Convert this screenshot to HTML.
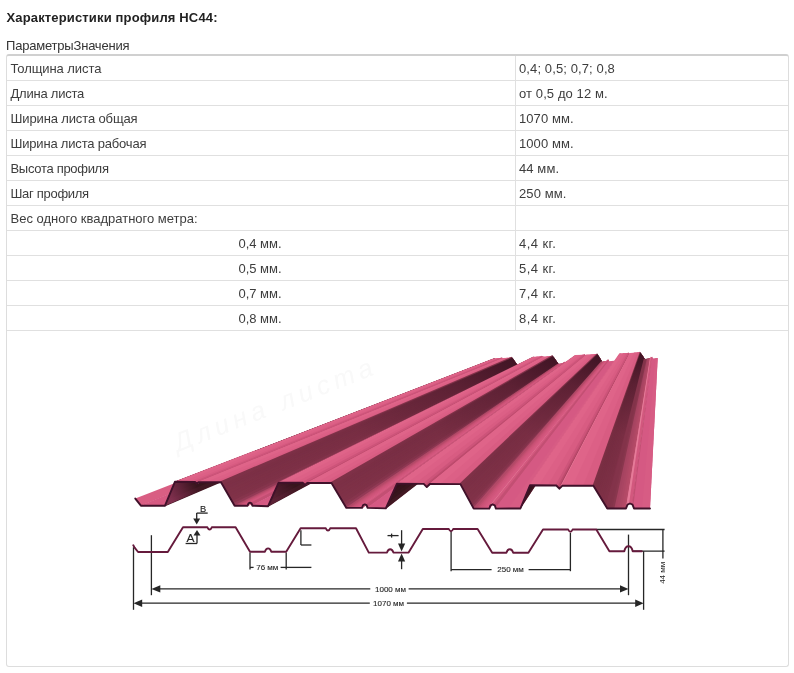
<!DOCTYPE html>
<html><head><meta charset="utf-8">
<style>
html,body{margin:0;padding:0;background:#fff;}
body{width:794px;height:673px;overflow:hidden;position:relative;font-family:"Liberation Sans",sans-serif;font-size:13px;color:#3d3d3d;}
h3{position:absolute;left:6.5px;top:10px;margin:0;font-size:13px;font-weight:bold;color:#222;line-height:15px;white-space:nowrap;letter-spacing:0.15px;}
.cap{position:absolute;left:6px;top:38px;font-size:13px;line-height:15px;color:#333;white-space:nowrap;letter-spacing:-0.2px;}
.tbl{position:absolute;left:6px;top:54px;width:781px;height:610px;border:1px solid #ddd;border-top:2px solid #d0d0d0;border-radius:3px;}
.row{position:absolute;left:0;width:781px;height:24px;border-bottom:1px solid #e0e0e0;}
.c1{position:absolute;left:3.5px;top:4.5px;line-height:15px;white-space:nowrap;}
.c1c{position:absolute;left:0;width:506px;text-align:center;top:4.5px;line-height:15px;}
.c2{position:absolute;left:512px;top:4.5px;line-height:15px;white-space:nowrap;}
.vl{position:absolute;left:508px;top:0;width:1px;height:274px;background:#e0e0e0;}
.art{position:absolute;left:0;top:0;}
h3,.cap,.tbl,.art text{filter:grayscale(1);}
</style></head><body>
<h3>Характеристики профиля НС44:</h3>
<div class="cap">ПараметрыЗначения</div>
<div class="tbl">
<div class="vl"></div>
<div class="row" style="top:0"><span class="c1" style="letter-spacing:-0.08px">Толщина листа</span><span class="c2" style="letter-spacing:0.11px">0,4; 0,5; 0,7; 0,8</span></div>
<div class="row" style="top:25px"><span class="c1" style="letter-spacing:-0.23px">Длина листа</span><span class="c2" style="letter-spacing:0.10px">от 0,5 до 12 м.</span></div>
<div class="row" style="top:50px"><span class="c1" style="letter-spacing:-0.13px">Ширина листа общая</span><span class="c2" style="letter-spacing:0.08px">1070 мм.</span></div>
<div class="row" style="top:75px"><span class="c1" style="letter-spacing:-0.19px">Ширина листа рабочая</span><span class="c2" style="letter-spacing:0.08px">1000 мм.</span></div>
<div class="row" style="top:100px"><span class="c1" style="letter-spacing:-0.30px">Высота профиля</span><span class="c2" style="letter-spacing:0.10px">44 мм.</span></div>
<div class="row" style="top:125px"><span class="c1" style="letter-spacing:-0.30px">Шаг профиля</span><span class="c2" style="letter-spacing:0.10px">250 мм.</span></div>
<div class="row" style="top:150px"><span class="c1" style="letter-spacing:0.00px">Вес одного квадратного метра:</span></div>
<div class="row" style="top:175px"><span class="c1c">0,4 мм.</span><span class="c2" style="letter-spacing:0.45px">4,4 кг.</span></div>
<div class="row" style="top:200px"><span class="c1c">0,5 мм.</span><span class="c2" style="letter-spacing:0.45px">5,4 кг.</span></div>
<div class="row" style="top:225px"><span class="c1c">0,7 мм.</span><span class="c2" style="letter-spacing:0.45px">7,4 кг.</span></div>
<div class="row" style="top:250px"><span class="c1c">0,8 мм.</span><span class="c2" style="letter-spacing:0.45px">8,4 кг.</span></div>
</div>
<!--ART--><svg class="art" width="794" height="673" viewBox="0 0 794 673">
<defs><linearGradient id="U1" gradientUnits="userSpaceOnUse" x1="169.9" y1="493.8" x2="492.9" y2="362.4"><stop offset="0" stop-color="#9a3a60" stop-opacity="0.70"/><stop offset="0.035" stop-color="#8a3256" stop-opacity="0.49"/><stop offset="0.08" stop-color="#8a3256" stop-opacity="0"/></linearGradient><linearGradient id="S2" gradientUnits="userSpaceOnUse" x1="227.8" y1="493.9" x2="514.9" y2="361.4"><stop offset="0" stop-color="#2a0a18" stop-opacity="0"/><stop offset="0.45" stop-color="#2a0a18" stop-opacity="0.08"/><stop offset="0.8" stop-color="#2a0a18" stop-opacity="0.4"/><stop offset="1" stop-color="#2a0a18" stop-opacity="0.72"/></linearGradient><linearGradient id="U3" gradientUnits="userSpaceOnUse" x1="273.4" y1="494.4" x2="531.9" y2="360.8"><stop offset="0" stop-color="#9a3a60" stop-opacity="0.30"/><stop offset="0.035" stop-color="#8a3256" stop-opacity="0.21"/><stop offset="0.08" stop-color="#8a3256" stop-opacity="0"/></linearGradient><linearGradient id="S4" gradientUnits="userSpaceOnUse" x1="338.9" y1="495.4" x2="555.6" y2="359.9"><stop offset="0" stop-color="#2a0a18" stop-opacity="0"/><stop offset="0.45" stop-color="#2a0a18" stop-opacity="0.08"/><stop offset="0.8" stop-color="#2a0a18" stop-opacity="0.4"/><stop offset="1" stop-color="#2a0a18" stop-opacity="0.72"/></linearGradient><linearGradient id="U5" gradientUnits="userSpaceOnUse" x1="391.4" y1="496.0" x2="574.1" y2="359.1"><stop offset="0" stop-color="#9a3a60" stop-opacity="0.00"/><stop offset="0.035" stop-color="#8a3256" stop-opacity="0.00"/><stop offset="0.08" stop-color="#8a3256" stop-opacity="0"/></linearGradient><linearGradient id="S6" gradientUnits="userSpaceOnUse" x1="467.0" y1="496.4" x2="599.8" y2="357.8"><stop offset="0" stop-color="#2a0a18" stop-opacity="0"/><stop offset="0.45" stop-color="#2a0a18" stop-opacity="0.08"/><stop offset="0.8" stop-color="#2a0a18" stop-opacity="0.4"/><stop offset="1" stop-color="#2a0a18" stop-opacity="0.72"/></linearGradient><linearGradient id="U7" gradientUnits="userSpaceOnUse" x1="525.2" y1="496.9" x2="618.9" y2="357.0"><stop offset="0" stop-color="#9a3a60" stop-opacity="0.00"/><stop offset="0.035" stop-color="#8a3256" stop-opacity="0.00"/><stop offset="0.08" stop-color="#8a3256" stop-opacity="0"/></linearGradient><linearGradient id="S8" gradientUnits="userSpaceOnUse" x1="600.3" y1="497.1" x2="642.6" y2="355.6"><stop offset="0" stop-color="#2a0a18" stop-opacity="0"/><stop offset="0.45" stop-color="#2a0a18" stop-opacity="0.08"/><stop offset="0.8" stop-color="#2a0a18" stop-opacity="0.4"/><stop offset="1" stop-color="#2a0a18" stop-opacity="0.72"/></linearGradient></defs>
<text transform="translate(178,452) rotate(-21.5)" font-family="Liberation Sans, sans-serif" font-size="26px" font-style="italic" letter-spacing="5" fill="#f9f9f9">Длина листа</text>
<polygon points="135.3,498.6 140.9,505.7 481.5,367.0 479.3,364.7" fill="#d95e83"/>
<polygon points="139.9,505.7 165.0,505.7 490.9,366.6 480.5,367.1" fill="#d65a82"/>
<polygon points="152.9,505.7 165.0,505.7 490.9,366.6 486.3,366.8" fill="#d65a82"/>
<polygon points="164.6,506.6 174.9,481.8 494.8,358.2 490.5,367.5" fill="#411823"/>
<polygon points="167.5,499.7 174.9,481.8 494.8,358.2 491.9,364.5" fill="#38151d"/>
<polygon points="169.9,493.8 174.9,481.8 494.8,358.2 492.9,362.4" fill="#36131c"/>
<polygon points="172.4,487.8 174.9,481.8 494.8,358.2 493.8,360.3" fill="#33121a"/>
<polygon points="165.0,505.7 174.9,481.8 494.8,358.2 490.9,366.6" fill="url(#U1)"/>
<polygon points="173.9,481.8 195.1,482.0 502.5,357.9 493.8,358.3" fill="#df6489"/>
<polygon points="181.6,481.9 195.1,482.0 502.5,357.9 497.4,358.1" fill="#dc6086"/>
<polygon points="188.4,481.9 195.1,482.0 502.5,357.9 500.0,358.0" fill="#d85c82"/>
<polygon points="194.4,481.3 196.8,483.6 503.2,358.5 501.8,357.3" fill="#cd547a"/>
<polygon points="195.7,482.5 196.8,483.6 503.2,358.5 502.8,358.1" fill="#bf4c6e"/>
<polygon points="196.2,483.1 196.8,483.6 503.2,358.5 503.0,358.3" fill="#ad4062"/>
<polygon points="196.1,484.3 198.5,482.1 503.8,357.9 502.4,359.1" fill="#e87b98"/>
<polygon points="197.5,482.1 221.0,482.2 512.4,357.6 502.8,358.0" fill="#df6489"/>
<polygon points="206.0,482.1 221.0,482.2 512.4,357.6 506.7,357.8" fill="#dc6086"/>
<polygon points="213.5,482.2 221.0,482.2 512.4,357.6 509.5,357.7" fill="#d85c82"/>
<polygon points="220.5,481.3 234.6,505.7 517.5,365.3 511.8,356.7" fill="#7f3148"/>
<polygon points="222.4,484.6 234.6,505.7 517.5,365.3 512.9,358.3" fill="#7d3046"/>
<polygon points="223.7,486.9 234.6,505.7 517.5,365.3 513.4,359.1" fill="#7d3047"/>
<polygon points="225.1,489.2 234.6,505.7 517.5,365.3 513.9,359.9" fill="#7e3147"/>
<polygon points="226.4,491.6 234.6,505.7 517.5,365.3 514.4,360.7" fill="#7f3147"/>
<polygon points="227.8,493.9 234.6,505.7 517.5,365.3 514.9,361.4" fill="#7f3148"/>
<polygon points="229.2,496.3 234.6,505.7 517.5,365.3 515.4,362.2" fill="#803248"/>
<polygon points="230.5,498.6 234.6,505.7 517.5,365.3 516.0,363.0" fill="#813249"/>
<polygon points="231.9,501.0 234.6,505.7 517.5,365.3 516.5,363.7" fill="#87354d"/>
<polygon points="233.2,503.3 234.6,505.7 517.5,365.3 517.0,364.5" fill="#943b57"/>
<polygon points="221.0,482.2 234.6,505.7 517.5,365.3 512.4,357.6" fill="url(#S2)"/>
<polygon points="233.6,505.7 247.6,505.7 522.3,365.0 516.5,365.3" fill="#b14967"/>
<polygon points="236.2,505.7 247.6,505.7 522.3,365.0 518.1,365.2" fill="#bc4d6d"/>
<polygon points="237.8,505.7 247.6,505.7 522.3,365.0 518.7,365.2" fill="#c75174"/>
<polygon points="239.5,505.7 247.6,505.7 522.3,365.0 519.3,365.2" fill="#cd5479"/>
<polygon points="241.1,505.7 247.6,505.7 522.3,365.0 519.9,365.1" fill="#d1577c"/>
<polygon points="242.7,505.7 247.6,505.7 522.3,365.0 520.5,365.1" fill="#d55980"/>
<polygon points="244.3,505.7 247.6,505.7 522.3,365.0 521.1,365.1" fill="#d65b82"/>
<polygon points="246.0,505.7 247.6,505.7 522.3,365.0 521.7,365.0" fill="#d75c83"/>
<polygon points="247.2,506.6 248.5,503.3 522.7,364.2 522.0,365.9" fill="#e57997"/>
<polygon points="247.6,503.7 250.0,502.6 523.2,363.9 521.8,364.6" fill="#e67b99"/>
<polygon points="249.1,502.2 251.5,503.3 523.8,364.1 522.3,363.6" fill="#d2587e"/>
<polygon points="251.1,502.4 252.4,505.7 524.1,364.9 523.4,363.2" fill="#c34f73"/>
<polygon points="251.4,505.7 268.1,506.2 530.0,364.8 523.1,364.9" fill="#d55983"/>
<polygon points="260.3,505.9 268.1,506.2 530.0,364.8 527.1,364.8" fill="#d75c84"/>
<polygon points="267.7,507.1 278.6,482.6 533.8,356.7 529.5,365.7" fill="#411823"/>
<polygon points="270.7,500.3 278.6,482.6 533.8,356.7 530.9,362.8" fill="#38151d"/>
<polygon points="273.4,494.4 278.6,482.6 533.8,356.7 531.9,360.7" fill="#36131c"/>
<polygon points="276.0,488.5 278.6,482.6 533.8,356.7 532.9,358.7" fill="#33121a"/>
<polygon points="268.1,506.2 278.6,482.6 533.8,356.7 530.0,364.8" fill="url(#U3)"/>
<polygon points="277.6,482.6 302.9,482.8 542.7,356.4 532.8,356.8" fill="#df6489"/>
<polygon points="286.7,482.7 302.9,482.8 542.7,356.4 536.8,356.6" fill="#dc6086"/>
<polygon points="294.8,482.7 302.9,482.8 542.7,356.4 539.7,356.5" fill="#d85c82"/>
<polygon points="302.2,482.1 305.1,485.0 543.5,357.1 541.9,355.7" fill="#cd547a"/>
<polygon points="303.6,483.5 305.1,485.0 543.5,357.1 543.0,356.6" fill="#bf4c6e"/>
<polygon points="304.4,484.3 305.1,485.0 543.5,357.1 543.2,356.8" fill="#ad4062"/>
<polygon points="304.4,485.7 307.3,482.9 544.3,356.3 542.8,357.7" fill="#e87b98"/>
<polygon points="306.3,482.9 331.5,483.0 553.0,356.0 543.3,356.4" fill="#df6489"/>
<polygon points="315.4,482.9 331.5,483.0 553.0,356.0 547.2,356.2" fill="#dc6086"/>
<polygon points="323.4,483.0 331.5,483.0 553.0,356.0 550.1,356.1" fill="#d85c82"/>
<polygon points="331.0,482.1 346.4,507.9 558.3,363.8 552.4,355.1" fill="#7f3148"/>
<polygon points="333.0,485.5 346.4,507.9 558.3,363.8 553.5,356.7" fill="#7d3046"/>
<polygon points="334.5,488.0 346.4,507.9 558.3,363.8 554.1,357.5" fill="#7d3047"/>
<polygon points="336.0,490.5 346.4,507.9 558.3,363.8 554.6,358.3" fill="#7e3147"/>
<polygon points="337.5,493.0 346.4,507.9 558.3,363.8 555.1,359.1" fill="#7f3147"/>
<polygon points="338.9,495.4 346.4,507.9 558.3,363.8 555.6,359.9" fill="#7f3148"/>
<polygon points="340.4,497.9 346.4,507.9 558.3,363.8 556.2,360.7" fill="#803248"/>
<polygon points="341.9,500.4 346.4,507.9 558.3,363.8 556.7,361.5" fill="#813249"/>
<polygon points="343.4,502.9 346.4,507.9 558.3,363.8 557.2,362.3" fill="#87354d"/>
<polygon points="344.9,505.4 346.4,507.9 558.3,363.8 557.8,363.0" fill="#943b57"/>
<polygon points="331.5,483.0 346.4,507.9 558.3,363.8 553.0,356.0" fill="url(#S4)"/>
<polygon points="345.4,507.9 362.0,507.9 563.8,363.5 557.3,363.9" fill="#b14967"/>
<polygon points="348.4,507.9 362.0,507.9 563.8,363.5 559.0,363.8" fill="#bc4d6d"/>
<polygon points="350.3,507.9 362.0,507.9 563.8,363.5 559.7,363.8" fill="#c75174"/>
<polygon points="352.3,507.9 362.0,507.9 563.8,363.5 560.4,363.7" fill="#cd5479"/>
<polygon points="354.2,507.9 362.0,507.9 563.8,363.5 561.1,363.7" fill="#d1577c"/>
<polygon points="356.2,507.9 362.0,507.9 563.8,363.5 561.8,363.6" fill="#d55980"/>
<polygon points="358.1,507.9 362.0,507.9 563.8,363.5 562.4,363.6" fill="#d65b82"/>
<polygon points="360.1,507.9 362.0,507.9 563.8,363.5 563.1,363.6" fill="#d75c83"/>
<polygon points="361.7,508.8 363.1,505.1 564.2,362.6 563.4,364.5" fill="#e57997"/>
<polygon points="362.2,505.6 364.8,504.4 564.8,362.3 563.3,363.0" fill="#e67b99"/>
<polygon points="363.9,504.0 366.5,505.1 565.4,362.5 563.9,362.0" fill="#d2587e"/>
<polygon points="366.2,504.2 367.6,507.9 565.8,363.4 565.0,361.6" fill="#c34f73"/>
<polygon points="366.6,507.9 385.8,508.4 572.1,363.2 564.8,363.4" fill="#d55983"/>
<polygon points="376.7,508.1 385.8,508.4 572.1,363.2 569.0,363.3" fill="#d75c84"/>
<polygon points="385.4,509.3 397.0,483.7 576.0,355.1 571.7,364.1" fill="#411823"/>
<polygon points="388.6,502.2 397.0,483.7 576.0,355.1 573.1,361.2" fill="#38151d"/>
<polygon points="391.4,496.0 397.0,483.7 576.0,355.1 574.1,359.1" fill="#36131c"/>
<polygon points="394.2,489.9 397.0,483.7 576.0,355.1 575.1,357.1" fill="#33121a"/>
<polygon points="385.8,508.4 397.0,483.7 576.0,355.1 572.1,363.2" fill="url(#U5)"/>
<polygon points="396.0,483.7 423.7,483.9 585.2,354.7 575.0,355.1" fill="#df6489"/>
<polygon points="405.9,483.8 423.7,483.9 585.2,354.7 579.1,354.9" fill="#dc6086"/>
<polygon points="414.8,483.8 423.7,483.9 585.2,354.7 582.1,354.8" fill="#d85c82"/>
<polygon points="423.0,483.2 426.8,487.1 586.2,355.6 584.4,354.0" fill="#cd547a"/>
<polygon points="424.7,485.0 426.8,487.1 586.2,355.6 585.5,355.0" fill="#bf4c6e"/>
<polygon points="425.8,486.1 426.8,487.1 586.2,355.6 585.9,355.3" fill="#ad4062"/>
<polygon points="426.1,487.9 429.9,484.0 587.3,354.6 585.5,356.4" fill="#e87b98"/>
<polygon points="428.9,484.0 460.4,484.1 597.6,354.1 586.3,354.6" fill="#df6489"/>
<polygon points="440.1,484.0 460.4,484.1 597.6,354.1 590.8,354.4" fill="#dc6086"/>
<polygon points="450.2,484.1 460.4,484.1 597.6,354.1 594.2,354.3" fill="#d85c82"/>
<polygon points="459.9,483.2 473.7,508.6 602.0,361.6 597.1,353.2" fill="#7f3148"/>
<polygon points="461.7,486.5 473.7,508.6 602.0,361.6 598.0,354.8" fill="#7d3046"/>
<polygon points="463.1,489.0 473.7,508.6 602.0,361.6 598.5,355.6" fill="#7d3047"/>
<polygon points="464.4,491.4 473.7,508.6 602.0,361.6 598.9,356.3" fill="#7e3147"/>
<polygon points="465.7,493.9 473.7,508.6 602.0,361.6 599.4,357.1" fill="#7f3147"/>
<polygon points="467.0,496.4 473.7,508.6 602.0,361.6 599.8,357.8" fill="#7f3148"/>
<polygon points="468.4,498.8 473.7,508.6 602.0,361.6 600.2,358.6" fill="#803248"/>
<polygon points="469.7,501.2 473.7,508.6 602.0,361.6 600.7,359.3" fill="#813249"/>
<polygon points="471.0,503.7 473.7,508.6 602.0,361.6 601.1,360.1" fill="#87354d"/>
<polygon points="472.4,506.2 473.7,508.6 602.0,361.6 601.6,360.8" fill="#943b57"/>
<polygon points="460.4,484.1 473.7,508.6 602.0,361.6 597.6,354.1" fill="url(#S6)"/>
<polygon points="472.7,508.6 489.3,508.6 607.2,361.3 601.0,361.6" fill="#b14967"/>
<polygon points="475.6,508.6 489.3,508.6 607.2,361.3 602.7,361.5" fill="#bc4d6d"/>
<polygon points="477.6,508.6 489.3,508.6 607.2,361.3 603.3,361.5" fill="#c75174"/>
<polygon points="479.5,508.6 489.3,508.6 607.2,361.3 603.9,361.5" fill="#cd5479"/>
<polygon points="481.5,508.6 489.3,508.6 607.2,361.3 604.6,361.4" fill="#d1577c"/>
<polygon points="483.4,508.6 489.3,508.6 607.2,361.3 605.2,361.4" fill="#d55980"/>
<polygon points="485.4,508.6 489.3,508.6 607.2,361.3 605.9,361.4" fill="#d65b82"/>
<polygon points="487.3,508.6 489.3,508.6 607.2,361.3 606.5,361.3" fill="#d75c83"/>
<polygon points="488.9,509.5 490.5,505.3 607.6,360.2 606.8,362.2" fill="#e57997"/>
<polygon points="489.6,505.7 492.6,504.4 608.3,359.9 606.7,360.7" fill="#e67b99"/>
<polygon points="491.7,504.0 494.7,505.3 608.9,360.1 607.3,359.5" fill="#d2587e"/>
<polygon points="494.3,504.4 495.9,508.6 609.3,361.2 608.5,359.2" fill="#c34f73"/>
<polygon points="494.9,508.6 520.4,508.5 617.3,360.6 608.3,361.2" fill="#d55983"/>
<polygon points="508.2,508.6 520.4,508.5 617.3,360.6 613.3,360.9" fill="#d75c84"/>
<polygon points="520.0,509.4 530.0,485.3 620.4,353.3 616.9,361.6" fill="#411823"/>
<polygon points="522.8,502.7 530.0,485.3 620.4,353.3 618.1,358.8" fill="#38151d"/>
<polygon points="525.2,496.9 530.0,485.3 620.4,353.3 618.9,357.0" fill="#36131c"/>
<polygon points="527.6,491.1 530.0,485.3 620.4,353.3 619.6,355.1" fill="#33121a"/>
<polygon points="520.4,508.5 530.0,485.3 620.4,353.3 617.3,360.6" fill="url(#U7)"/>
<polygon points="529.0,485.3 556.3,485.5 628.8,352.9 619.4,353.3" fill="#df6489"/>
<polygon points="538.8,485.4 556.3,485.5 628.8,352.9 623.2,353.1" fill="#dc6086"/>
<polygon points="547.5,485.4 556.3,485.5 628.8,352.9 626.0,353.0" fill="#d85c82"/>
<polygon points="555.6,484.8 559.4,488.7 629.8,353.8 628.1,352.2" fill="#cd547a"/>
<polygon points="557.3,486.6 559.4,488.7 629.8,353.8 629.1,353.2" fill="#bf4c6e"/>
<polygon points="558.4,487.7 559.4,488.7 629.8,353.8 629.5,353.5" fill="#ad4062"/>
<polygon points="558.7,489.5 562.5,485.6 630.8,352.8 629.1,354.5" fill="#e87b98"/>
<polygon points="561.5,485.6 593.4,485.7 640.4,352.3 629.8,352.9" fill="#df6489"/>
<polygon points="572.8,485.6 593.4,485.7 640.4,352.3 634.0,352.6" fill="#dc6086"/>
<polygon points="583.1,485.7 593.4,485.7 640.4,352.3 637.2,352.5" fill="#d85c82"/>
<polygon points="592.9,484.8 607.3,508.5 644.7,359.0 639.9,351.5" fill="#7d3045"/>
<polygon points="594.8,488.0 607.3,508.5 644.7,359.0 640.9,353.0" fill="#7b2f44"/>
<polygon points="596.2,490.3 607.3,508.5 644.7,359.0 641.3,353.6" fill="#7b2f44"/>
<polygon points="597.6,492.5 607.3,508.5 644.7,359.0 641.7,354.3" fill="#7c2f45"/>
<polygon points="599.0,494.8 607.3,508.5 644.7,359.0 642.2,355.0" fill="#7d3045"/>
<polygon points="600.3,497.1 607.3,508.5 644.7,359.0 642.6,355.6" fill="#7d3046"/>
<polygon points="601.7,499.4 607.3,508.5 644.7,359.0 643.0,356.3" fill="#7e3046"/>
<polygon points="603.1,501.7 607.3,508.5 644.7,359.0 643.5,357.0" fill="#7f3147"/>
<polygon points="604.5,503.9 607.3,508.5 644.7,359.0 643.9,357.6" fill="#803147"/>
<polygon points="605.9,506.2 607.3,508.5 644.7,359.0 644.3,358.3" fill="#85344c"/>
<polygon points="593.4,485.7 607.3,508.5 644.7,359.0 640.4,352.3" fill="url(#S8)"/>
<polygon points="606.3,508.5 626.0,508.5 650.5,358.6 643.7,359.0" fill="#83334a"/>
<polygon points="609.6,508.5 626.0,508.5 650.5,358.6 645.5,358.9" fill="#84344b"/>
<polygon points="612.0,508.5 626.0,508.5 650.5,358.6 646.2,358.9" fill="#89374e"/>
<polygon points="614.3,508.5 626.0,508.5 650.5,358.6 646.9,358.8" fill="#a54360"/>
<polygon points="616.6,508.5 626.0,508.5 650.5,358.6 647.6,358.8" fill="#a94562"/>
<polygon points="619.0,508.5 626.0,508.5 650.5,358.6 648.3,358.7" fill="#ad4764"/>
<polygon points="621.3,508.5 626.0,508.5 650.5,358.6 649.0,358.7" fill="#b24966"/>
<polygon points="623.6,508.5 626.0,508.5 650.5,358.6 649.7,358.6" fill="#b64b68"/>
<polygon points="625.6,509.4 627.5,504.6 650.9,357.4 650.1,359.5" fill="#e57997"/>
<polygon points="626.6,505.0 630.0,503.5 651.7,357.0 650.0,357.8" fill="#e67b99"/>
<polygon points="629.1,503.1 632.5,504.6 652.4,357.3 650.7,356.7" fill="#d2587e"/>
<polygon points="632.1,503.6 634.0,508.5 652.9,358.4 652.1,356.4" fill="#c34f73"/>
<polygon points="633.0,508.5 650.0,508.5 657.7,358.1 651.9,358.5" fill="#d55983"/>
<polygon points="642.0,508.5 650.0,508.5 657.7,358.1 655.3,358.3" fill="#d75c84"/>
<polyline points="135.3,498.6 140.9,505.7 165.0,505.7 174.9,481.8 195.1,482.0 196.8,483.6 198.5,482.1 221.0,482.2 234.6,505.7 247.6,505.7 248.5,503.3 250.0,502.6 251.5,503.3 252.4,505.7 268.1,506.2 278.6,482.6 302.9,482.8 305.1,485.0 307.3,482.9 331.5,483.0 346.4,507.9 362.0,507.9 363.1,505.1 364.8,504.4 366.5,505.1 367.6,507.9 385.8,508.4 397.0,483.7 423.7,483.9 426.8,487.1 429.9,484.0 460.4,484.1 473.7,508.6 489.3,508.6 490.5,505.3 492.6,504.4 494.7,505.3 495.9,508.6 520.4,508.5 530.0,485.3 556.3,485.5 559.4,488.7 562.5,485.6 593.4,485.7 607.3,508.5 626.0,508.5 627.5,504.6 630.0,503.5 632.5,504.6 634.0,508.5 650.0,508.5" fill="none" stroke="#40112a" stroke-width="1.9" stroke-linejoin="round" stroke-linecap="round"/>
<g fill="none" stroke="#262626" stroke-width="1.3" stroke-linecap="butt">
<path d="M196.7,513.1 L207.7,513.1"/>
<path d="M196.7,513.1 L196.7,520.0"/>
<path d="M185.6,543.5 L197.0,543.5"/>
<path d="M197.0,543.5 L197.0,534.5"/>
<path d="M300.9,530.2 L300.9,545.0"/>
<path d="M300.9,545.0 L311.4,545.0"/>
<path d="M250.0,552.5 L250.0,569.4"/>
<path d="M286.2,552.5 L286.2,569.4"/>
<path d="M250.0,567.4 L253.6,567.4"/>
<path d="M280.6,567.4 L311.4,567.4"/>
<path d="M401.6,530.2 L401.6,545.0"/>
<path d="M401.6,561.0 L401.6,569.2"/>
<path d="M387.5,535.6 L398.6,535.6"/>
<path d="M391.6,533.6 L391.6,537.6"/>
<path d="M451.1,531.5 L451.1,571.2"/>
<path d="M570.4,533.0 L570.4,571.2"/>
<path d="M451.1,569.6 L491.6,569.6"/>
<path d="M528.6,569.6 L570.4,569.6"/>
<path d="M151.4,535.2 L151.4,595.2"/>
<path d="M628.5,534.6 L628.5,595.2"/>
<path d="M158.0,588.9 L370.3,588.9"/>
<path d="M408.6,588.9 L621.0,588.9"/>
<path d="M133.5,547.2 L133.5,609.8"/>
<path d="M643.6,551.2 L643.6,609.8"/>
<path d="M140.0,603.2 L369.8,603.2"/>
<path d="M406.9,603.2 L636.5,603.2"/>
<path d="M596.3,529.5 L664.6,529.5"/>
<path d="M632.0,551.2 L664.6,551.2"/>
<path d="M662.9,529.5 L662.9,558.5"/>
</g>
<polygon points="196.7,524.4 193.2,518.4 200.2,518.4" fill="#262626"/>
<polygon points="197.0,530.0 193.5,535.6 200.5,535.6" fill="#262626"/>
<polygon points="401.6,551.6 398.0,543.4 405.2,543.4" fill="#262626"/>
<polygon points="401.6,553.4 398.0,561.6 405.2,561.6" fill="#262626"/>
<polygon points="151.4,588.9 160.3,585.2 160.3,592.6" fill="#262626"/>
<polygon points="628.5,588.9 620.0,585.2 620.0,592.6" fill="#262626"/>
<polygon points="133.5,603.2 142.2,599.5 142.2,606.9" fill="#262626"/>
<polygon points="643.6,603.2 635.2,599.5 635.2,606.9" fill="#262626"/>
<path d="M133.3,545.3 L134.6,547.6 L138.1,552.0 L167.8,552.0 L183.0,527.3 L207.4,527.3 Q208.3,529.4 209.6,529.5 Q210.9,529.4 211.8,527.3 L235.6,527.3 L250.0,551.8 L264.9,551.8 C265.5,549.8 266.3,548.4 268.1,548.4 C269.9,548.4 270.7,549.8 271.3,551.8 L286.2,551.8 L300.6,528.3 L325.8,528.3 Q326.7,530.4 328.0,530.5 Q329.3,530.4 330.2,528.3 L356.0,528.3 L368.8,552.6 L387.0,552.6 C387.6,550.6 388.4,549.2 390.2,549.2 C392.0,549.2 392.8,550.6 393.4,552.6 L408.6,552.6 L422.8,529.0 L448.8,529.0 Q449.7,531.1 451.0,531.2 Q452.3,531.1 453.2,529.0 L477.6,529.0 L492.2,552.8 L506.4,552.8 C507.0,550.6 507.8,549.2 509.8,549.2 C511.8,549.2 512.6,550.6 513.2,552.8 L528.4,552.8 L543.0,529.5 L568.2,529.5 Q569.1,531.6 570.4,531.7 Q571.7,531.6 572.6,529.5 L596.3,529.5 L609.4,551.2 L624.3,551.2 C624.9,548.2 626.0,546.2 628.5,546.2 C631.0,546.2 632.1,548.2 632.7,551.2 L641.8,551.2" fill="none" stroke="#651a3c" stroke-width="1.9" stroke-linejoin="round" stroke-linecap="round"/>
<text x="203.0" y="511.6" font-family="Liberation Sans, sans-serif" font-size="9.3px" fill="#262626" stroke="#262626" stroke-width="0.15" text-anchor="middle">B</text>
<text transform="translate(190.5,541.7) scale(1.2,1)" font-family="Liberation Sans, sans-serif" font-size="10px" fill="#262626" stroke="#262626" stroke-width="0.12" text-anchor="middle">A</text>
<text x="267.3" y="570.2" font-family="Liberation Sans, sans-serif" font-size="8px" fill="#262626" stroke="#262626" stroke-width="0.12" text-anchor="middle">76 мм</text>
<text x="510.6" y="572.4" font-family="Liberation Sans, sans-serif" font-size="8px" fill="#262626" stroke="#262626" stroke-width="0.12" text-anchor="middle">250 мм</text>
<text x="390.5" y="591.9" font-family="Liberation Sans, sans-serif" font-size="8px" fill="#262626" stroke="#262626" stroke-width="0.12" text-anchor="middle">1000 мм</text>
<text x="388.6" y="606.4" font-family="Liberation Sans, sans-serif" font-size="8px" fill="#262626" stroke="#262626" stroke-width="0.12" text-anchor="middle">1070 мм</text>
<text transform="translate(665.4,572.8) rotate(-90)" font-family="Liberation Sans, sans-serif" font-size="8px" fill="#262626" text-anchor="middle">44 мм</text>
</svg><!--/ART-->
</body></html>
